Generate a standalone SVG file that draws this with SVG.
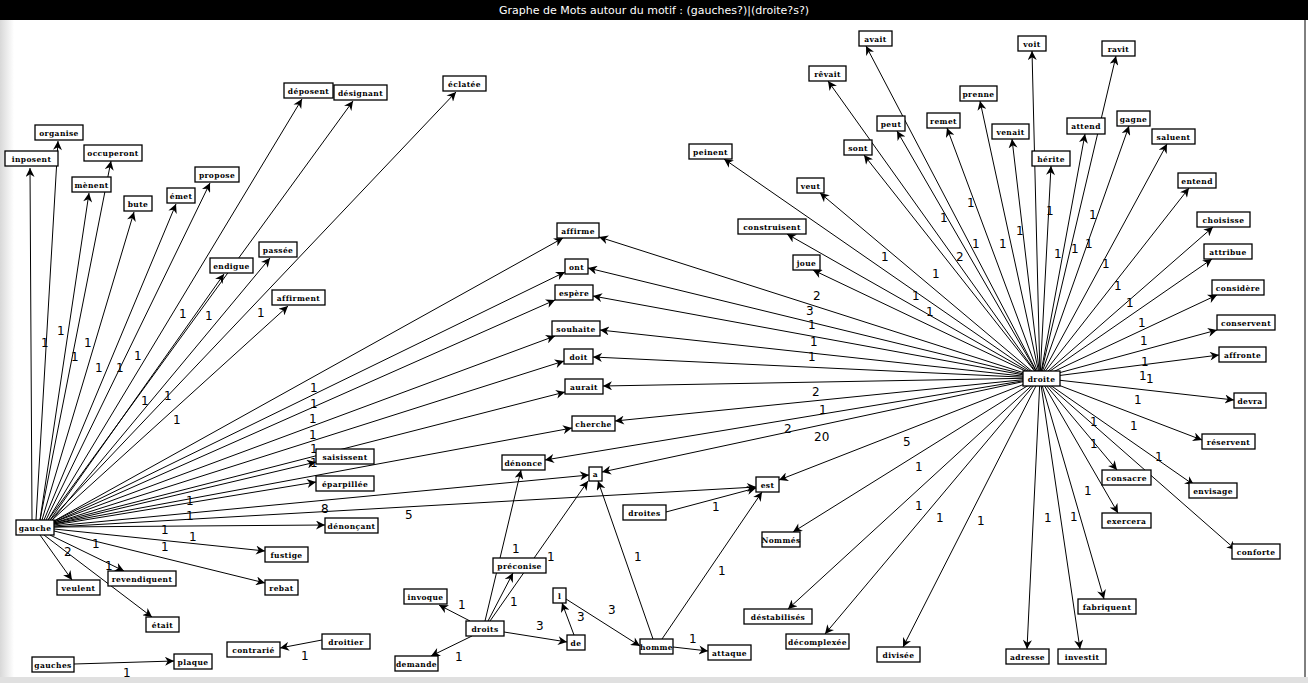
<svg xmlns="http://www.w3.org/2000/svg" width="1308" height="683" viewBox="0 0 1308 683">
<defs>
<marker id="ar" viewBox="0 0 10 10" refX="10" refY="5" markerWidth="10" markerHeight="9" markerUnits="userSpaceOnUse" orient="auto"><path d="M0,0 L10,5 L0,10 L3,5 z" fill="#000"/></marker>
<linearGradient id="lg" x1="0" x2="1"><stop offset="0" stop-color="#d8d8d8"/><stop offset="1" stop-color="#fff"/></linearGradient>
<style>
.e{stroke:#000;stroke-width:1;fill:none;marker-end:url(#ar)}
.n rect{fill:#fff;stroke:#000;stroke-width:1.3}
.n text{font-family:"DejaVu Serif",serif;font-size:7.5px;font-weight:bold;text-anchor:middle;letter-spacing:0.4px}
.l{font-family:"DejaVu Sans",sans-serif;font-size:12px;fill:#000}
</style>
</defs>
<rect width="1308" height="683" fill="#fff"/>
<rect x="0" y="20" width="14" height="660" fill="url(#lg)"/>
<rect x="0" y="677" width="1308" height="6" fill="#e0e0e0"/>
<line x1="1305" y1="20" x2="1305" y2="677" stroke="#000" stroke-width="1"/>
<rect width="1308" height="20" fill="#000"/>
<text x="654" y="14" fill="#fff" font-family="DejaVu Sans, sans-serif" font-size="11" text-anchor="middle">Graphe de Mots autour du motif : (gauches?)|(droite?s?)</text>
<g id="connectors">
<path class="e" d="M32,520 L30,168"/>
<path class="e" d="M36,520 L58,141"/>
<path class="e" d="M40,520 L111,161"/>
<path class="e" d="M40,520 L89,193"/>
<path class="e" d="M42,520 L134,212"/>
<path class="e" d="M44,520 L176,204"/>
<path class="e" d="M46,520 L210,183"/>
<path class="e" d="M48,520 L302,99"/>
<path class="e" d="M48,520 L353,101"/>
<path class="e" d="M50,520 L456,92"/>
<path class="e" d="M50,520 L224,274"/>
<path class="e" d="M52,520 L270,258"/>
<path class="e" d="M52,520 L288,306"/>
<path class="e" d="M54,521 L563,238"/>
<path class="e" d="M54,521 L565,272"/>
<path class="e" d="M54,522 L555,300"/>
<path class="e" d="M54,522 L555,336"/>
<path class="e" d="M54,523 L564,361"/>
<path class="e" d="M54,523 L565,392"/>
<path class="e" d="M54,524 L572,428"/>
<path class="e" d="M54,524 L316,462"/>
<path class="e" d="M54,525 L316,482"/>
<path class="e" d="M54,526 L589,475"/>
<path class="e" d="M54,527 L756,487"/>
<path class="e" d="M54,527 L325,525"/>
<path class="e" d="M54,529 L265,551"/>
<path class="e" d="M54,531 L265,583"/>
<path class="e" d="M50,535 L124,571"/>
<path class="e" d="M40,535 L72,580"/>
<path class="e" d="M44,535 L152,617"/>
<path class="e" d="M74,664 L174,661"/>
<path class="e" d="M322,640 L280,648"/>
<path class="e" d="M470,621 L439,605"/>
<path class="e" d="M472,636 L431,656"/>
<path class="e" d="M488,621 L513,573"/>
<path class="e" d="M485,621 L521,470"/>
<path class="e" d="M490,621 L588,481"/>
<path class="e" d="M504,632 L567,642"/>
<path class="e" d="M574,635 L562,603"/>
<path class="e" d="M566,599 L640,646"/>
<path class="e" d="M653,639 L598,481"/>
<path class="e" d="M662,639 L762,492"/>
<path class="e" d="M673,647 L708,651"/>
<path class="e" d="M666,512 L756,488"/>
<path class="e" d="M1040,378 L866,46"/>
<path class="e" d="M1040,378 L828,81"/>
<path class="e" d="M1040,378 L1032,51"/>
<path class="e" d="M1040,378 L1116,56"/>
<path class="e" d="M1040,378 L980,101"/>
<path class="e" d="M1040,378 L897,131"/>
<path class="e" d="M1040,378 L947,128"/>
<path class="e" d="M1040,378 L1012,139"/>
<path class="e" d="M1040,378 L1085,134"/>
<path class="e" d="M1040,378 L1129,126"/>
<path class="e" d="M1040,378 L1167,144"/>
<path class="e" d="M1040,378 L864,155"/>
<path class="e" d="M1040,378 L1051,166"/>
<path class="e" d="M1040,378 L724,159"/>
<path class="e" d="M1040,378 L1189,188"/>
<path class="e" d="M1040,378 L820,193"/>
<path class="e" d="M1040,378 L1213,227"/>
<path class="e" d="M1040,378 L787,234"/>
<path class="e" d="M1040,378 L1212,259"/>
<path class="e" d="M1040,378 L813,270"/>
<path class="e" d="M1040,378 L1217,295"/>
<path class="e" d="M1040,378 L1217,330"/>
<path class="e" d="M1040,378 L1219,355"/>
<path class="e" d="M1040,378 L1234,400"/>
<path class="e" d="M1040,378 L1202,440"/>
<path class="e" d="M1040,378 L1194,485"/>
<path class="e" d="M1040,378 L1236,550"/>
<path class="e" d="M1040,378 L1117,470"/>
<path class="e" d="M1040,378 L1118,513"/>
<path class="e" d="M1040,378 L1104,599"/>
<path class="e" d="M1040,378 L1080,649"/>
<path class="e" d="M1040,378 L1027,649"/>
<path class="e" d="M1040,378 L903,647"/>
<path class="e" d="M1040,378 L825,634"/>
<path class="e" d="M1040,378 L788,609"/>
<path class="e" d="M1040,378 L793,532"/>
<path class="e" d="M1040,378 L779,480"/>
<path class="e" d="M1040,378 L602,472"/>
<path class="e" d="M1040,378 L545,460"/>
<path class="e" d="M1040,378 L615,421"/>
<path class="e" d="M1040,378 L603,386"/>
<path class="e" d="M1040,378 L593,357"/>
<path class="e" d="M1040,378 L600,330"/>
<path class="e" d="M1040,378 L593,296"/>
<path class="e" d="M1040,378 L588,268"/>
<path class="e" d="M1040,378 L599,237"/>
</g>
<g id="labels" class="l">
<text x="41" y="347">1</text><text x="57" y="335">1</text><text x="71" y="361">1</text><text x="84" y="347">1</text>
<text x="95" y="372">1</text><text x="116" y="372">1</text><text x="134" y="360">1</text><text x="141" y="405">1</text>
<text x="164" y="400">1</text><text x="173" y="424">1</text><text x="179" y="318">1</text><text x="205" y="320">1</text><text x="257" y="317">1</text>
<text x="310" y="392">1</text><text x="310" y="408">1</text><text x="309" y="423">1</text><text x="309" y="439">1</text><text x="310" y="453">1</text><text x="310" y="467">1</text>
<text x="186" y="505">1</text><text x="186" y="520">1</text><text x="321" y="513">8</text><text x="405" y="519">5</text>
<text x="161" y="534">1</text><text x="189" y="541">1</text><text x="161" y="551">1</text><text x="92" y="548">1</text><text x="64" y="556">2</text><text x="105" y="570">1</text>
<text x="123" y="677">1</text><text x="301" y="660">1</text><text x="458" y="609">1</text><text x="455" y="661">1</text>
<text x="512" y="553">1</text><text x="547" y="561">1</text><text x="510" y="606">1</text><text x="536" y="630">3</text>
<text x="577" y="621">3</text><text x="608" y="614">3</text><text x="634" y="561">1</text><text x="718" y="575">1</text><text x="689" y="643">1</text><text x="712" y="511">1</text>
<text x="813" y="300">2</text><text x="806" y="315">3</text><text x="808" y="329">1</text><text x="810" y="346">1</text><text x="808" y="361">1</text>
<text x="812" y="396">2</text><text x="819" y="414">1</text><text x="784" y="433">2</text><text x="814" y="441">20</text><text x="903" y="446">5</text>
<text x="881" y="261">1</text><text x="932" y="278">1</text><text x="912" y="300">1</text><text x="926" y="316">1</text><text x="956" y="261">2</text>
<text x="940" y="222">1</text><text x="967" y="207">1</text><text x="972" y="248">1</text><text x="999" y="248">1</text><text x="1016" y="235">1</text>
<text x="1046" y="215">1</text><text x="1054" y="258">1</text><text x="1071" y="253">1</text><text x="1085" y="248">1</text><text x="1089" y="219">1</text>
<text x="1102" y="268">1</text><text x="1114" y="290">1</text><text x="1126" y="307">1</text><text x="1138" y="327">1</text><text x="1140" y="345">1</text>
<text x="1141" y="366">1</text><text x="1139" y="380">1</text><text x="1146" y="383">1</text><text x="1134" y="404">1</text><text x="1130" y="430">1</text>
<text x="1090" y="426">1</text><text x="1090" y="448">1</text><text x="1155" y="461">1</text><text x="1084" y="495">1</text><text x="1070" y="521">1</text>
<text x="915" y="471">1</text><text x="915" y="510">1</text><text x="936" y="522">1</text><text x="977" y="525">1</text><text x="1044" y="522">1</text>
</g>
<g id="nodes">
<g class="n" id="n-inposent"><rect x="5" y="151" width="53" height="15"/><text x="31.5" y="161.5">inposent</text></g>
<g class="n" id="n-organise"><rect x="35" y="125" width="48" height="15"/><text x="59" y="135.5">organise</text></g>
<g class="n" id="n-occuperont"><rect x="84" y="145" width="58" height="16"/><text x="113" y="155.5">occuperont</text></g>
<g class="n" id="n-menent"><rect x="72" y="177" width="39" height="15"/><text x="91.5" y="187.5">mènent</text></g>
<g class="n" id="n-bute"><rect x="124" y="196" width="28" height="15"/><text x="138" y="206.5">bute</text></g>
<g class="n" id="n-emet"><rect x="167" y="188" width="28" height="15"/><text x="181" y="198.5">émet</text></g>
<g class="n" id="n-propose"><rect x="195" y="167" width="44" height="15"/><text x="217" y="177.5">propose</text></g>
<g class="n" id="n-deposent"><rect x="284" y="83" width="49" height="15"/><text x="308.5" y="93.5">déposent</text></g>
<g class="n" id="n-designant"><rect x="334" y="85" width="53" height="15"/><text x="360.5" y="95.5">désignant</text></g>
<g class="n" id="n-eclatee"><rect x="443" y="76" width="43" height="15"/><text x="464.5" y="86.5">éclatée</text></g>
<g class="n" id="n-endigue"><rect x="210" y="258" width="43" height="15"/><text x="231.5" y="268.5">endigue</text></g>
<g class="n" id="n-passee"><rect x="259" y="242" width="38" height="15"/><text x="278" y="252.5">passée</text></g>
<g class="n" id="n-affirment"><rect x="272" y="290" width="53" height="15"/><text x="298.5" y="300.5">affirment</text></g>
<g class="n" id="n-gauche"><rect x="16" y="520" width="38" height="15"/><text x="35" y="530.5">gauche</text></g>
<g class="n" id="n-saisissent"><rect x="316" y="449" width="58" height="15"/><text x="345" y="459.5">saisissent</text></g>
<g class="n" id="n-eparpillee"><rect x="316" y="476" width="58" height="15"/><text x="345" y="486.5">éparpillée</text></g>
<g class="n" id="n-denoncant"><rect x="325" y="518" width="53" height="15"/><text x="351.5" y="528.5">dénonçant</text></g>
<g class="n" id="n-fustige"><rect x="265" y="547" width="43" height="15"/><text x="286.5" y="557.5">fustige</text></g>
<g class="n" id="n-rebat"><rect x="265" y="580" width="33" height="15"/><text x="281.5" y="590.5">rebat</text></g>
<g class="n" id="n-revendiquent"><rect x="108" y="571" width="68" height="15"/><text x="142" y="581.5">revendiquent</text></g>
<g class="n" id="n-veulent"><rect x="57" y="580" width="43" height="15"/><text x="78.5" y="590.5">veulent</text></g>
<g class="n" id="n-etait"><rect x="146" y="617" width="33" height="15"/><text x="162.5" y="627.5">était</text></g>
<g class="n" id="n-gauches"><rect x="32" y="657" width="42" height="15"/><text x="53" y="667.5">gauches</text></g>
<g class="n" id="n-plaque"><rect x="174" y="654" width="38" height="15"/><text x="193" y="664.5">plaque</text></g>
<g class="n" id="n-contrarie"><rect x="227" y="642" width="53" height="15"/><text x="253.5" y="652.5">contrarié</text></g>
<g class="n" id="n-droitier"><rect x="322" y="634" width="48" height="15"/><text x="346" y="644.5">droitier</text></g>
<g class="n" id="n-invoque"><rect x="404" y="589" width="43" height="15"/><text x="425.5" y="599.5">invoque</text></g>
<g class="n" id="n-droits"><rect x="466" y="621" width="38" height="15"/><text x="485" y="631.5">droits</text></g>
<g class="n" id="n-demande"><rect x="395" y="656" width="43" height="15"/><text x="416.5" y="666.5">demande</text></g>
<g class="n" id="n-affirme"><rect x="557" y="223" width="42" height="15"/><text x="578" y="233.5">affirme</text></g>
<g class="n" id="n-ont"><rect x="565" y="259" width="23" height="15"/><text x="576.5" y="269.5">ont</text></g>
<g class="n" id="n-espere"><rect x="555" y="285" width="38" height="15"/><text x="574" y="295.5">espère</text></g>
<g class="n" id="n-souhaite"><rect x="552" y="321" width="48" height="15"/><text x="576" y="331.5">souhaite</text></g>
<g class="n" id="n-doit"><rect x="564" y="349" width="29" height="15"/><text x="578.5" y="359.5">doit</text></g>
<g class="n" id="n-aurait"><rect x="565" y="379" width="38" height="15"/><text x="584" y="389.5">aurait</text></g>
<g class="n" id="n-cherche"><rect x="572" y="416" width="43" height="15"/><text x="593.5" y="426.5">cherche</text></g>
<g class="n" id="n-denonce"><rect x="502" y="455" width="43" height="15"/><text x="523.5" y="465.5">dénonce</text></g>
<g class="n" id="n-a"><rect x="589" y="467" width="13" height="14"/><text x="595.5" y="477">a</text></g>
<g class="n" id="n-est"><rect x="756" y="477" width="23" height="15"/><text x="767.5" y="487.5">est</text></g>
<g class="n" id="n-droites"><rect x="623" y="505" width="43" height="15"/><text x="644.5" y="515.5">droites</text></g>
<g class="n" id="n-preconise"><rect x="493" y="558" width="53" height="15"/><text x="519.5" y="568.5">préconise</text></g>
<g class="n" id="n-l"><rect x="553" y="588" width="13" height="15"/><text x="559.5" y="598.5">l</text></g>
<g class="n" id="n-de"><rect x="567" y="635" width="18" height="15"/><text x="576" y="645.5">de</text></g>
<g class="n" id="n-homme"><rect x="640" y="639" width="33" height="15"/><text x="656.5" y="649.5">homme</text></g>
<g class="n" id="n-attaque"><rect x="708" y="645" width="43" height="15"/><text x="729.5" y="655.5">attaque</text></g>
<g class="n" id="n-construisent"><rect x="738" y="219" width="68" height="15"/><text x="772" y="229.5">construisent</text></g>
<g class="n" id="n-joue"><rect x="793" y="255" width="27" height="15"/><text x="806.5" y="265.5">joue</text></g>
<g class="n" id="n-nommes"><rect x="762" y="532" width="38" height="15"/><text x="781" y="542.5">Nommés</text></g>
<g class="n" id="n-destabilises"><rect x="744" y="609" width="68" height="15"/><text x="778" y="619.5">déstabilisés</text></g>
<g class="n" id="n-decomplexee"><rect x="786" y="634" width="63" height="15"/><text x="817.5" y="644.5">décomplexée</text></g>
<g class="n" id="n-divisee"><rect x="877" y="647" width="43" height="15"/><text x="898.5" y="657.5">divisée</text></g>
<g class="n" id="n-adresse"><rect x="1006" y="649" width="43" height="15"/><text x="1027.5" y="659.5">adresse</text></g>
<g class="n" id="n-investit"><rect x="1058" y="649" width="48" height="15"/><text x="1082" y="659.5">investit</text></g>
<g class="n" id="n-fabriquent"><rect x="1078" y="599" width="58" height="15"/><text x="1107" y="609.5">fabriquent</text></g>
<g class="n" id="n-exercera"><rect x="1102" y="513" width="49" height="15"/><text x="1126.5" y="523.5">exercera</text></g>
<g class="n" id="n-consacre"><rect x="1102" y="470" width="49" height="15"/><text x="1126.5" y="480.5">consacre</text></g>
<g class="n" id="n-conforte"><rect x="1232" y="544" width="48" height="15"/><text x="1256" y="554.5">conforte</text></g>
<g class="n" id="n-envisage"><rect x="1189" y="483" width="48" height="15"/><text x="1213" y="493.5">envisage</text></g>
<g class="n" id="n-reservent"><rect x="1202" y="434" width="53" height="15"/><text x="1228.5" y="444.5">réservent</text></g>
<g class="n" id="n-devra"><rect x="1234" y="393" width="32" height="15"/><text x="1250" y="403.5">devra</text></g>
<g class="n" id="n-droite"><rect x="1023" y="371" width="37" height="15"/><text x="1041.5" y="381.5">droite</text></g>
<g class="n" id="n-avait"><rect x="859" y="31" width="33" height="15"/><text x="875.5" y="41.5">avait</text></g>
<g class="n" id="n-revait"><rect x="809" y="66" width="37" height="15"/><text x="827.5" y="76.5">rêvait</text></g>
<g class="n" id="n-voit"><rect x="1018" y="36" width="28" height="15"/><text x="1032" y="46.5">voit</text></g>
<g class="n" id="n-ravit"><rect x="1102" y="41" width="33" height="15"/><text x="1118.5" y="51.5">ravit</text></g>
<g class="n" id="n-prenne"><rect x="960" y="86" width="37" height="15"/><text x="978.5" y="96.5">prenne</text></g>
<g class="n" id="n-peut"><rect x="877" y="116" width="28" height="15"/><text x="891" y="126.5">peut</text></g>
<g class="n" id="n-remet"><rect x="927" y="113" width="33" height="15"/><text x="943.5" y="123.5">remet</text></g>
<g class="n" id="n-venait"><rect x="992" y="124" width="37" height="15"/><text x="1010.5" y="134.5">venait</text></g>
<g class="n" id="n-attend"><rect x="1067" y="118" width="38" height="16"/><text x="1086" y="128.5">attend</text></g>
<g class="n" id="n-gagne"><rect x="1117" y="111" width="33" height="15"/><text x="1133.5" y="121.5">gagne</text></g>
<g class="n" id="n-saluent"><rect x="1152" y="129" width="43" height="15"/><text x="1173.5" y="139.5">saluent</text></g>
<g class="n" id="n-sont"><rect x="844" y="140" width="28" height="15"/><text x="858" y="150.5">sont</text></g>
<g class="n" id="n-herite"><rect x="1032" y="151" width="38" height="15"/><text x="1051" y="161.5">hérite</text></g>
<g class="n" id="n-peinent"><rect x="689" y="144" width="43" height="15"/><text x="710.5" y="154.5">peinent</text></g>
<g class="n" id="n-entend"><rect x="1178" y="173" width="38" height="15"/><text x="1197" y="183.5">entend</text></g>
<g class="n" id="n-veut"><rect x="797" y="178" width="27" height="15"/><text x="810.5" y="188.5">veut</text></g>
<g class="n" id="n-choisisse"><rect x="1197" y="212" width="53" height="15"/><text x="1223.5" y="222.5">choisisse</text></g>
<g class="n" id="n-attribue"><rect x="1204" y="244" width="48" height="15"/><text x="1228" y="254.5">attribue</text></g>
<g class="n" id="n-considere"><rect x="1212" y="280" width="52" height="15"/><text x="1238" y="290.5">considère</text></g>
<g class="n" id="n-conservent"><rect x="1217" y="315" width="58" height="15"/><text x="1246" y="325.5">conservent</text></g>
<g class="n" id="n-affronte"><rect x="1219" y="347" width="47" height="15"/><text x="1242.5" y="357.5">affronte</text></g>
</g>
</svg>
